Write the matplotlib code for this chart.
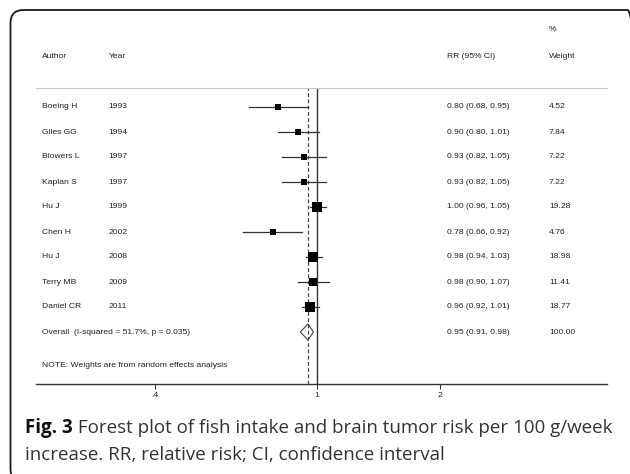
import matplotlib
matplotlib.use("Agg")
import matplotlib.pyplot as plt
import matplotlib.transforms as mtransforms
from matplotlib.patches import FancyBboxPatch, Polygon
import numpy as np

authors = ["Boeing H", "Giles GG", "Blowers L", "Kaplan S", "Hu J", "Chen H", "Hu J", "Terry MB", "Daniel CR"]
years = ["1993", "1994", "1997", "1997", "1999", "2002", "2008", "2009", "2011"]
rr = [0.80, 0.90, 0.93, 0.93, 1.00, 0.78, 0.98, 0.98, 0.96]
lo = [0.68, 0.80, 0.82, 0.82, 0.96, 0.66, 0.94, 0.90, 0.92]
hi = [0.95, 1.01, 1.05, 1.05, 1.05, 0.92, 1.03, 1.07, 1.01]
weights = [4.52, 7.84, 7.22, 7.22, 19.28, 4.76, 18.98, 11.41, 18.77]
overall_rr, overall_lo, overall_hi = 0.95, 0.91, 0.98
overall_label = "Overall  (I-squared = 51.7%, p = 0.035)"
note = "NOTE: Weights are from random effects analysis"
xticks = [0.4, 1, 2]
xticklabels = [".4", "1", "2"]
caption_bold = "Fig. 3"
caption_line1 = " Forest plot of fish intake and brain tumor risk per 100 g/week"
caption_line2 = "increase. RR, relative risk; CI, confidence interval"

W, H = 630, 474
fig = plt.figure(figsize=(W / 100, H / 100), dpi=100)
fig.patch.set_facecolor("white")

# border (pixel coordinates, origin bottom-left)
border = FancyBboxPatch((10.5, -8), 630, 472,
                        boxstyle="round,pad=0,rounding_size=13",
                        transform=mtransforms.IdentityTransform(), fill=False,
                        edgecolor="#1a1a1a", linewidth=1.3, clip_on=False)
fig.patches.append(border)

ax_l, ax_r = 36, 607
ax_t, ax_b = 88, 384
ax = fig.add_axes([ax_l / W, 1 - ax_b / H, (ax_r - ax_l) / W, (ax_b - ax_t) / H])
ax.set_xscale("log")
ax.set_xlim(0.2044, 5.147)
ax.set_ylim(12.08, 0.24)

for s in ["left", "right"]:
    ax.spines[s].set_visible(False)
ax.spines["top"].set_color("#c8c8c8")
ax.spines["top"].set_linewidth(0.8)
ax.spines["bottom"].set_color("#333333")
ax.spines["bottom"].set_linewidth(1.0)
ax.set_yticks([])
ax.set_xticks(xticks)
ax.set_xticklabels(xticklabels)
ax.xaxis.set_minor_locator(matplotlib.ticker.NullLocator())
ax.tick_params(axis="x", direction="out", length=3.5, width=0.8, color="#333333",
               labelsize=6.1, pad=2.5, labelcolor="#222222")
for lbl in ax.get_xticklabels():
    lbl.set_family("Liberation Sans")

ax.axvline(1.0, color="#333333", lw=1.0, zorder=1)
ax.axvline(overall_rr, color="#444444", lw=0.9, ls=(0, (3, 2)), zorder=1)

rows = np.arange(1, len(authors) + 1)
for r, m, l, h, w in zip(rows, rr, lo, hi, weights):
    ax.plot([l, h], [r, r], color="#333333", lw=0.9, zorder=2)
    ax.plot([m], [r], marker="s", ms=1.72 * np.sqrt(w), color="black", mew=0, zorder=3)

orow = len(authors) + 1
dh = 0.32
diamond = Polygon([[overall_lo, orow], [overall_rr, orow - dh], [overall_hi, orow], [overall_rr, orow + dh]],
                  closed=True, fill=False, edgecolor="#444444", lw=0.8, zorder=3)
ax.add_patch(diamond)

tr = mtransforms.blended_transform_factory(ax.transAxes, ax.transData)
fs = 6.1
tk = dict(transform=tr, fontsize=fs, family="Liberation Sans", color="#222222",
          va="center", ha="left", clip_on=False)
col_author = (42 - ax_l) / (ax_r - ax_l)
col_year = (108.5 - ax_l) / (ax_r - ax_l)
col_rr = (447 - ax_l) / (ax_r - ax_l)
col_w = (549 - ax_l) / (ax_r - ax_l)

hdr = -1.04
ax.text(col_author, hdr, "Author", **tk)
ax.text(col_year, hdr, "Year", **tk)
ax.text(col_rr, hdr, "RR (95% CI)", **tk)
ax.text(col_w, hdr, "Weight", **tk)
ax.text(col_w, -2.1, "%", **tk)

for r, a, y, m, l, h, w in zip(rows, authors, years, rr, lo, hi, weights):
    ax.text(col_author, r, a, **tk)
    ax.text(col_year, r, y, **tk)
    ax.text(col_rr, r, f"{m:.2f} ({l:.2f}, {h:.2f})", **tk)
    ax.text(col_w, r, f"{w:.2f}", **tk)

ax.text(col_author, orow, overall_label, **tk)
ax.text(col_rr, orow, f"{overall_rr:.2f} ({overall_lo:.2f}, {overall_hi:.2f})", **tk)
ax.text(col_w, orow, "100.00", **tk)
ax.text(col_author, 11.35, note, **tk)

# caption
cfs = 13.5
t1 = fig.text(25 / W, 1 - 428 / H, caption_bold, fontsize=cfs, family="Open Sans",
              weight="bold", va="center", ha="left", color="#111111")
fig.canvas.draw()
bb = t1.get_window_extent()
fig.text(bb.x1 / W, 1 - 428 / H, caption_line1, fontsize=cfs, family="Open Sans",
         va="center", ha="left", color="#333333")
fig.text(25 / W, 1 - 455 / H, caption_line2, fontsize=cfs, family="Open Sans",
         va="center", ha="left", color="#333333")

fig.savefig("out.png", dpi=100)
